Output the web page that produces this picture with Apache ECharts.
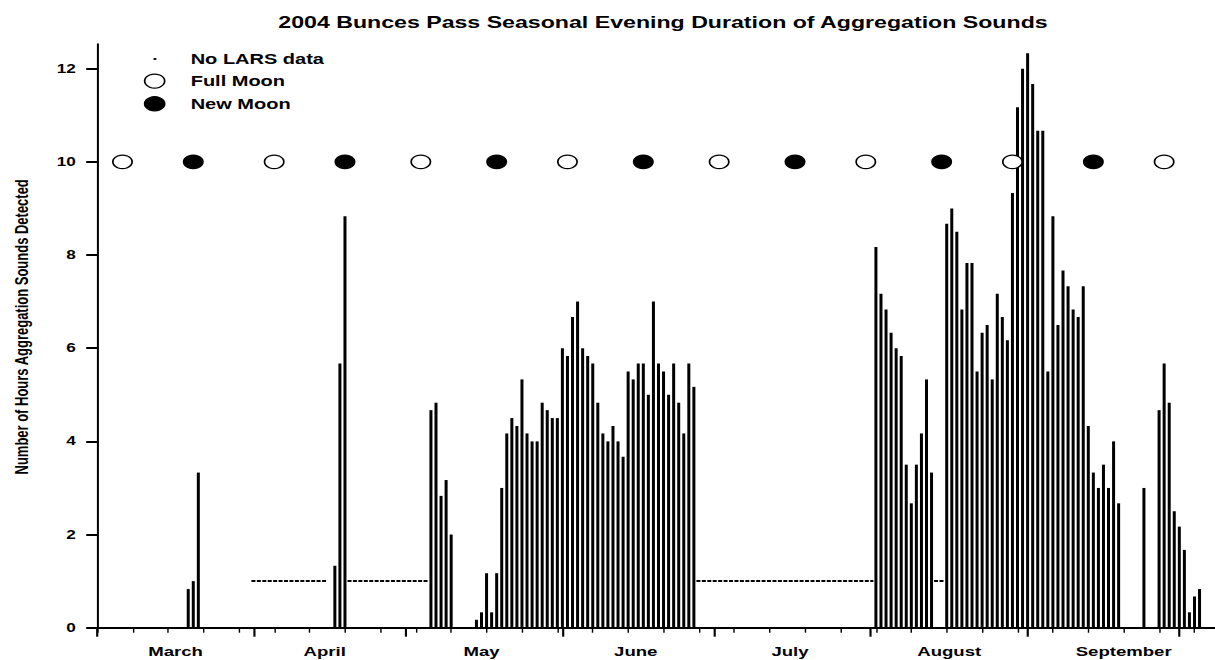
<!DOCTYPE html>
<html>
<head>
<meta charset="utf-8">
<title>2004 Bunces Pass Seasonal Evening Duration of Aggregation Sounds</title>
<script src="https://cdn.jsdelivr.net/npm/echarts@6.0.0/dist/echarts.min.js"></script>
<style>
  html, body { margin: 0; padding: 0; background: #fff; overflow: hidden; }
  /* the original figure is stretched sideways, so draw narrow and stretch */
  #chart { width: 850px; height: 660px; transform: scaleX(1.42941); transform-origin: 0 0; }
</style>
</head>
<body>
<div id="chart"></div>
<script>
// days counted from March 1 2004 (day 0)
var xMax = 221;
var monthNames = ["March", "April", "May", "June", "July", "August", "September"];
var monthLabelAt = [15.5, 45, 76, 106.5, 137, 168.5, 203];
var monthStartDay = [0, 31, 61, 92, 122, 153, 184, 214];
var yTicks = [0, 2, 4, 6, 8, 10, 12];

var fullMoonDay = [5, 35, 64, 93, 123, 152, 181, 211];
var newMoonDay = [19, 49, 79, 108, 138, 167, 197];
var moonLevel = 10;

var noDataRanges = [[31, 45], [50, 65], [119, 153], [166, 167]];
var noDataLevel = 1;

// hours of aggregation sounds, by runs of consecutive days
var marchStart = 18;
var marchHours = [0.83, 1.0, 3.33];
var aprilStart = 47;
var aprilHours = [1.33, 5.67, 8.83];
var earlyMayStart = 66;
var earlyMayHours = [4.67, 4.83, 2.83, 3.17, 2.0];
var mayJuneStart = 75;
var mayJuneHours = [0.17, 0.33, 1.17, 0.33, 1.17, 3.0, 4.17, 4.5, 4.33, 5.33,
  4.17, 4.0, 4.0, 4.83, 4.67, 4.5, 4.5, 6.0, 5.83, 6.67,
  7.0, 6.0, 5.83, 5.67, 4.83, 4.17, 4.0, 4.33, 4.0, 3.67,
  5.5, 5.33, 5.67, 5.67, 5.0, 7.0, 5.67, 5.5, 5.0, 5.67,
  4.83, 4.17, 5.67, 5.17];
var augStart = 154;
var augHours = [8.17, 7.17, 6.83, 6.33, 6.0, 5.83, 3.5, 2.67, 3.5, 4.17, 5.33, 3.33];
var augSepStart = 168;
var augSepHours = [8.67, 9.0, 8.5, 6.83, 7.83, 7.83, 5.5, 6.33, 6.5, 5.33,
  7.17, 6.67, 6.17, 9.33, 11.17, 12.0, 12.33, 11.67, 10.67, 10.67,
  5.5, 8.83, 6.5, 7.67, 7.33, 6.83, 6.67, 7.33, 4.33, 3.33,
  3.0, 3.5, 3.0, 4.0, 2.67];
var midSepStart = 207;
var midSepHours = [3.0];
var lateSepStart = 210;
var lateSepHours = [4.67, 5.67, 4.83, 2.5, 2.17, 1.67, 0.33, 0.67, 0.83];

var font = "'Liberation Sans', Arial, sans-serif";

function toPairs(start, values){
  var out = [];
  for(var i = 0; i < values.length; i++){
    out.push([start + i, values[i]]);
  }
  return out;
}

var barData = [].concat(
  toPairs(marchStart, marchHours),
  toPairs(aprilStart, aprilHours),
  toPairs(earlyMayStart, earlyMayHours),
  toPairs(mayJuneStart, mayJuneHours),
  toPairs(augStart, augHours),
  toPairs(augSepStart, augSepHours),
  toPairs(midSepStart, midSepHours),
  toPairs(lateSepStart, lateSepHours)
);

var weekTicks = [];
for(var d = 0; d <= xMax; d += 7){ weekTicks.push(d); }

var series = [{
  name: "Hours",
  type: "bar",
  data: barData,
  barWidth: 2.1,
  itemStyle: { color: "#000" },
  silent: true,
  z: 2
}];

// dashed stretches where there is no LARS data
noDataRanges.forEach(function(r){
  series.push({
    name: "No LARS data",
    type: "line",
    data: [[r[0] - 0.5, noDataLevel], [r[1] + 0.5, noDataLevel]],
    symbol: "none",
    lineStyle: { color: "#000", width: 2, type: [2.8, 1] },
    silent: true,
    z: 3
  });
});

series.push({
  name: "Full Moon",
  type: "scatter",
  data: fullMoonDay.map(function(d){ return [d, moonLevel]; }),
  symbol: "circle",
  symbolSize: 13.5,
  itemStyle: { color: "#fff", borderColor: "#000", borderWidth: 1.2, opacity: 1 },
  silent: true,
  z: 5
});
series.push({
  name: "New Moon",
  type: "scatter",
  data: newMoonDay.map(function(d){ return [d, moonLevel]; }),
  symbol: "circle",
  symbolSize: 13.5,
  itemStyle: { color: "#000", borderColor: "#000", borderWidth: 1.2, opacity: 1 },
  silent: true,
  z: 5
});

var option = {
  animation: false,
  backgroundColor: "#fff",
  title: {
    text: "2004 Bunces Pass Seasonal Evening Duration of Aggregation Sounds",
    left: 463.8,
    top: 14,
    textAlign: "center",
    padding: 0,
    textStyle: { fontFamily: font, fontWeight: "bold", fontSize: 16.2, color: "#000" }
  },
  legend: {
    orient: "vertical",
    left: 88.2,
    top: 52,
    padding: 0,
    itemWidth: 40.4,
    itemHeight: 14,
    itemGap: 7.5,
    selectedMode: false,
    textStyle: { fontFamily: font, fontWeight: "bold", fontSize: 14, color: "#000" },
    data: [
      { name: "No LARS data", icon: "path://M0,0M40,14M19.2,6.1h2v1.8h-2Z",
        itemStyle: { color: "#000", borderWidth: 0 } },
      { name: "Full Moon", icon: "circle",
        itemStyle: { color: "#fff", borderColor: "#000", borderWidth: 1.2 } },
      { name: "New Moon", icon: "circle",
        itemStyle: { color: "#000", borderColor: "#000", borderWidth: 1.2 } }
    ]
  },
  grid: { left: 67.5, right: 0.2, top: 44, bottom: 32.3, containLabel: false },
  xAxis: [{
    type: "value",
    min: 0,
    max: xMax,
    position: "bottom",
    axisLine: { show: true, onZero: false, lineStyle: { color: "#000", width: 2 } },
    axisTick: { show: true, customValues: weekTicks, length: 5, lineStyle: { color: "#000", width: 1 } },
    axisLabel: { show: false },
    splitLine: { show: false }
  }, {
    type: "value",
    min: 0,
    max: xMax,
    position: "bottom",
    axisLine: { show: false },
    axisTick: { show: true, customValues: monthStartDay, length: 9, lineStyle: { color: "#000", width: 1.5 } },
    axisLabel: {
      show: true,
      customValues: monthLabelAt,
      margin: 17,
      fontFamily: font, fontWeight: "bold", fontSize: 13, color: "#000",
      formatter: function(v){
        var i = monthLabelAt.indexOf(v);
        return i >= 0 ? monthNames[i] : "";
      }
    },
    splitLine: { show: false }
  }],
  yAxis: {
    type: "value",
    min: 0,
    max: 12.53,
    position: "left",
    name: "Number of Hours Aggregation Sounds Detected",
    nameLocation: "middle",
    nameRotate: 90,
    nameGap: 47,
    nameTextStyle: { fontFamily: font, fontWeight: "bold", fontSize: 13, color: "#000", padding: [0, 0, 0, 18] },
    axisLine: { show: true, onZero: false, lineStyle: { color: "#000", width: 1.4 } },
    axisTick: { show: true, customValues: yTicks, length: 7.7, lineStyle: { color: "#000", width: 2 } },
    axisLabel: { customValues: yTicks, margin: 15, fontFamily: font, fontWeight: "bold", fontSize: 12, color: "#000" },
    splitLine: { show: false }
  },
  series: series
};

window.onload = function(){
  var myChart = echarts.init(document.getElementById("chart"), null, { renderer: "svg" });
  myChart.setOption(option);
};
</script>
</body>
</html>
